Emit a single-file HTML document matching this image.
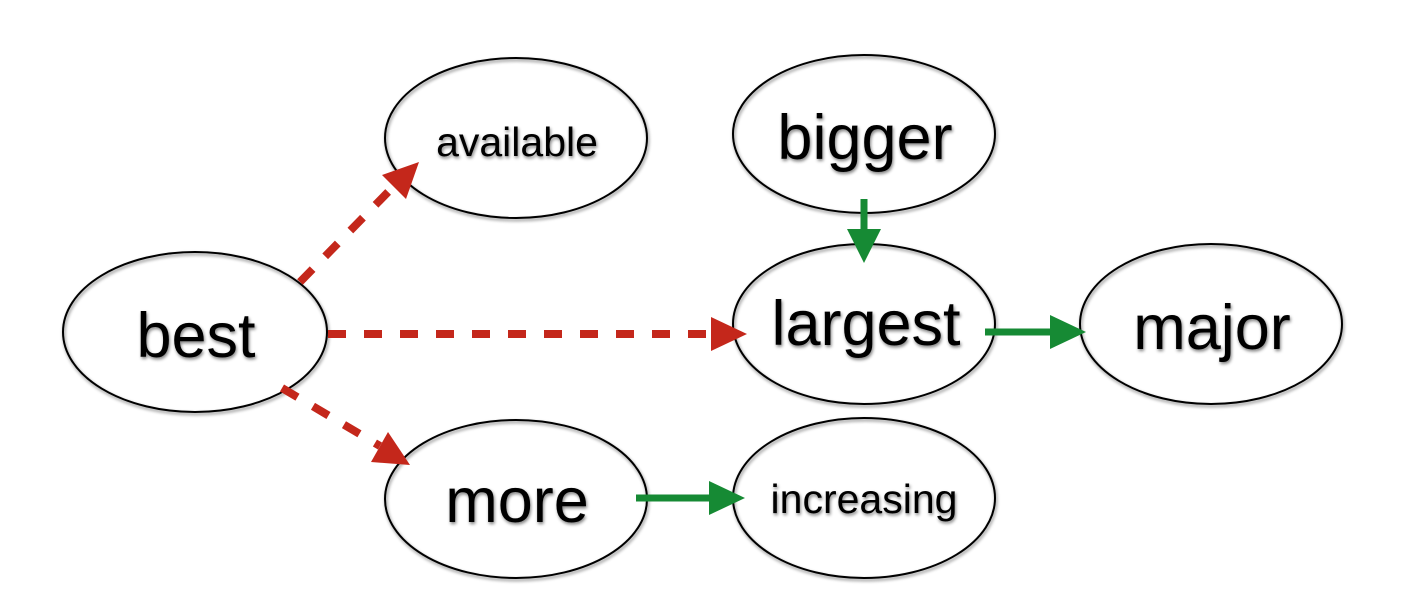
<!DOCTYPE html>
<html><head><style>
html,body{margin:0;padding:0;background:#fff;}
svg{display:block;}
text{font-family:"Liberation Sans",sans-serif;text-anchor:middle;fill:#000;}
</style></head><body>
<svg width="1406" height="606" viewBox="0 0 1406 606" xmlns="http://www.w3.org/2000/svg">
<defs>
<filter id="sh" x="-10%" y="-10%" width="120%" height="130%">
<feGaussianBlur in="SourceAlpha" stdDeviation="1.5"/>
<feOffset dx="1" dy="2" result="b"/>
<feComponentTransfer><feFuncA type="linear" slope="0.5"/></feComponentTransfer>
<feMerge><feMergeNode/><feMergeNode in="SourceGraphic"/></feMerge>
</filter>
</defs>
<g fill="none" stroke="#000" stroke-width="2" filter="url(#sh)">
<ellipse cx="195" cy="332" rx="132" ry="80"/>
<ellipse cx="516" cy="138" rx="131" ry="80"/>
<ellipse cx="864" cy="134" rx="131" ry="79"/>
<ellipse cx="864" cy="324" rx="131" ry="80"/>
<ellipse cx="1211" cy="324" rx="131" ry="80"/>
<ellipse cx="516" cy="499" rx="131" ry="79"/>
<ellipse cx="864" cy="498" rx="131" ry="80"/>
</g>
<g filter="url(#sh)">
<text x="196" y="357" font-size="63">best</text>
<text x="517" y="156" font-size="41">available</text>
<text x="865" y="159" font-size="63">bigger</text>
<text x="866" y="345" font-size="63">largest</text>
<text x="1212" y="349" font-size="63">major</text>
<text x="517" y="522" font-size="63">more</text>
<text x="864" y="513" font-size="41">increasing</text>
</g>
<g stroke="#c4271b" stroke-width="8" stroke-dasharray="18 18" fill="none">
<line x1="328" y1="334" x2="712" y2="334"/>
<line x1="300" y1="282" x2="392" y2="188"/>
<line x1="282" y1="388" x2="380" y2="446"/>
</g>
<g fill="#c4271b">
<polygon points="711,317 747,334 711,351"/>
<polygon points="419,162 406,199 382,175"/>
<polygon points="410,465 371,462 388,432"/>
</g>
<g stroke="#168a34" stroke-width="7" fill="none">
<line x1="864" y1="199" x2="864" y2="232"/>
<line x1="985" y1="332" x2="1052" y2="332"/>
<line x1="636" y1="498" x2="712" y2="498"/>
</g>
<g fill="#168a34">
<polygon points="847,229 881,229 864,263"/>
<polygon points="1050,315 1086,332 1050,349"/>
<polygon points="709,481 745,498 709,515"/>
</g>
</svg>
</body></html>
